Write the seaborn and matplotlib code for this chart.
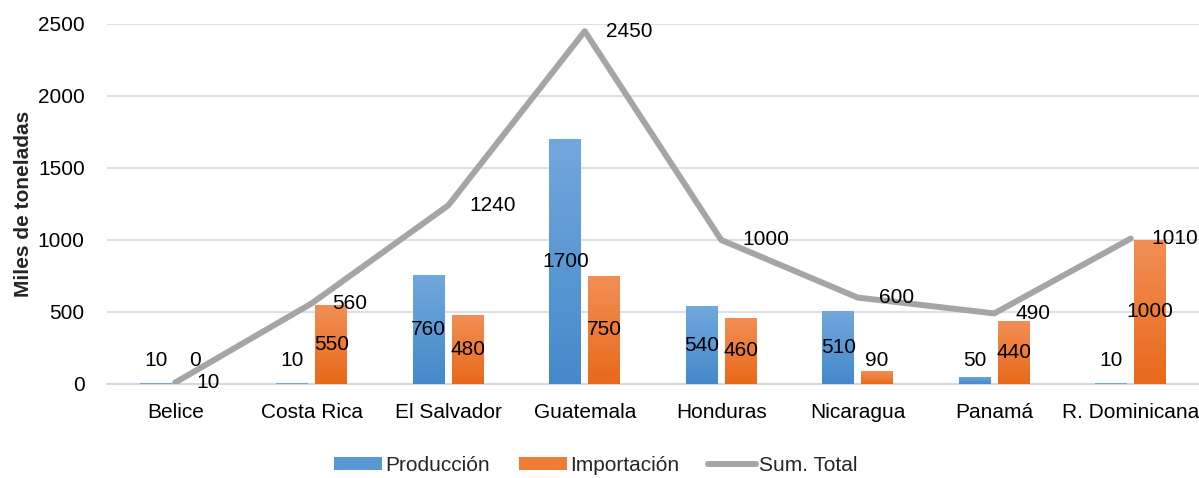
import numpy as np
import pandas as pd
import matplotlib
matplotlib.use("Agg")
import matplotlib.pyplot as plt
from matplotlib.colors import LinearSegmentedColormap
from matplotlib.patches import Patch
from matplotlib.lines import Line2D
import seaborn as sns

# chart data
countries = ["Belice", "Costa Rica", "El Salvador", "Guatemala", "Honduras",
             "Nicaragua", "Panamá", "R. Dominicana"]
produccion = [10, 10, 760, 1700, 540, 510, 50, 10]
importacion = [0, 550, 480, 750, 460, 90, 440, 1000]
sum_total = [10, 560, 1240, 2450, 1000, 600, 490, 1010]
series_names = ["Producción", "Importación"]
y_ticks = [0, 500, 1000, 1500, 2000, 2500]

# gradient colours (top, bottom)
grad_colors = {
    "Producción": ("#72A8DD", "#4589CA"),
    "Importación": ("#F28F56", "#E8691A"),
}
line_color = "#A5A5A5"

sns.set_theme(style="white")
plt.rcParams["font.family"] = ["Liberation Sans Narrow", "Liberation Sans", "DejaVu Sans"]
fs = 15

df = pd.DataFrame({
    "Pais": countries * 2,
    "Serie": [series_names[0]] * len(countries) + [series_names[1]] * len(countries),
    "Valor": produccion + importacion,
})

fig = plt.figure(figsize=(11.99, 4.78), dpi=100)
ax = fig.add_axes([0.0892, 0.1967, 0.9108, 0.7531])

sns.barplot(data=df, x="Pais", y="Valor", hue="Serie", order=countries,
            hue_order=series_names, width=0.57, gap=0.18, legend=False,
            palette=[grad_colors[s][1] for s in series_names], ax=ax)

# gradient fill on bars (thin bars keep a flat colour)
grad = np.linspace(0, 1, 256).reshape(-1, 1)
for cont, name in zip(ax.containers, series_names):
    top, bottom = grad_colors[name]
    cmap = LinearSegmentedColormap.from_list(name, [bottom, top])
    for bar in cont:
        x0, y0 = bar.get_x(), bar.get_y()
        w, h = bar.get_width(), bar.get_height()
        bar.set_edgecolor("none")
        bar.set_zorder(2.6)
        if h < 40:
            bar.set_facecolor(top)
            continue
        im = ax.imshow(grad, extent=[x0, x0 + w, y0, y0 + h], origin="lower",
                       cmap=cmap, aspect="auto", zorder=2.7, interpolation="bicubic")
        im.set_clip_path(bar)

ax.set_xlim(-0.5, len(countries) - 0.5)
ax.set_ylim(0, 2500)

# bar labels, centred in bar but kept above the axis
min_y = 165
for cont, vals in zip(ax.containers, [produccion, importacion]):
    for bar, v in zip(cont, vals):
        cx = bar.get_x() + bar.get_width() / 2
        ax.text(cx, max(v / 2, min_y), str(v), ha="center", va="center",
                fontsize=fs, color="black", zorder=5)

# total line
sns.lineplot(x=list(range(len(countries))), y=sum_total, color=line_color,
             linewidth=4.3, sort=False, ax=ax, zorder=3)
for i, v in enumerate(sum_total):
    ax.annotate(str(v), (i, v), xytext=(15, 0), textcoords="offset points",
                ha="left", va="center", fontsize=fs, color="black", zorder=5,
                annotation_clip=False)

# axes styling
ax.set_yticks(y_ticks)
ax.set_yticklabels([str(t) for t in y_ticks], fontsize=fs)
ax.set_xticks(range(len(countries)))
ax.set_xticklabels(countries, fontsize=fs)
ax.tick_params(axis="y", length=0, pad=16, colors="black")
ax.tick_params(axis="x", length=0, pad=14, colors="black")
ax.grid(axis="y", color="#DDE1E7", linewidth=1.5, zorder=0)
ax.set_axisbelow(True)
for s in ["top", "right", "left"]:
    ax.spines[s].set_visible(False)
ax.spines["bottom"].set_color("#D5D9DF")
ax.spines["bottom"].set_linewidth(1.5)
ax.set_xlabel("")
ax.set_ylabel("Miles de toneladas", fontsize=fs, fontweight="bold")
ax.yaxis.set_label_coords(-0.068, 0.5)

handles = [
    Patch(facecolor="#5A97D3", edgecolor="none", label="Producción"),
    Patch(facecolor="#EE7B36", edgecolor="none", label="Importación"),
    Line2D([0], [0], color=line_color, linewidth=4.3, label="Sum. Total",
           solid_capstyle="round"),
]
fig.legend(handles=handles, loc="center", bbox_to_anchor=(0.497, 0.027),
           ncol=3, frameon=False, fontsize=fs, handlelength=2.3,
           handleheight=0.6, handletextpad=0.15, columnspacing=1.4)

fig.savefig("out.png", dpi=100)
